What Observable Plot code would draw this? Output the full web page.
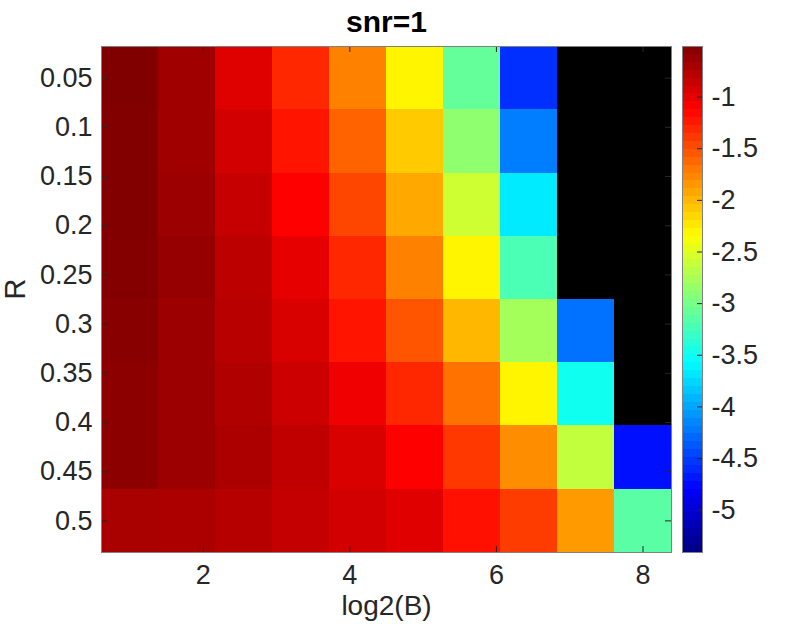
<!DOCTYPE html>
<html>
<head>
<meta charset="utf-8">
<script src="https://cdn.jsdelivr.net/npm/d3@7"></script>
<script src="https://cdn.jsdelivr.net/npm/@observablehq/plot@0.6"></script>
<style>
  html, body { margin: 0; padding: 0; background: #ffffff; }
  #wrap { position: relative; width: 792px; height: 624px; overflow: hidden; background: #fff; }
  #wrap svg { position: absolute; top: 0; }
</style>
</head>
<body>
<div id="wrap"></div>
<script>
// ---- data ----
const title = "snr=1";
const xLabel = "log2(B)";
const yLabel = "R";
const logB = [1, 1.7778, 2.5556, 3.3333, 4.1111, 4.8889, 5.6667, 6.4444, 7.2222, 8];
const R = [0.05, 0.1143, 0.1786, 0.2429, 0.3071, 0.3714, 0.4357, 0.5];
// rows follow R, columns follow logB; null = no value (drawn black)
const row1 = [-0.51, -0.67, -0.97, -1.31, -1.74, -2.30, -3.09, -4.57, null, null];
const row2 = [-0.52, -0.67, -0.91, -1.22, -1.60, -2.10, -2.88, -4.19, null, null];
const row3 = [-0.52, -0.65, -0.85, -1.12, -1.46, -1.93, -2.59, -3.67, null, null];
const row4 = [-0.53, -0.62, -0.80, -1.00, -1.31, -1.74, -2.30, -3.21, null, null];
const row5 = [-0.55, -0.65, -0.78, -0.94, -1.22, -1.53, -2.00, -2.78, -4.25, null];
const row6 = [-0.57, -0.65, -0.74, -0.88, -1.05, -1.31, -1.67, -2.30, -3.50, null];
const row7 = [-0.57, -0.65, -0.72, -0.82, -0.94, -1.12, -1.39, -1.80, -2.64, -4.72];
const row8 = [-0.71, -0.72, -0.77, -0.84, -0.91, -0.98, -1.20, -1.41, -1.86, -3.14];
const rows = [row1, row2, row3, row4, row5, row6, row7, row8];
const xTicks = [2, 4, 6, 8];
const yTicks = [0.05, 0.1, 0.15, 0.2, 0.25, 0.3, 0.35, 0.4, 0.45, 0.5];
const cbTicks = [-5, -4.5, -4, -3.5, -3, -2.5, -2, -1.5, -1];
const cLimits = [-5.41, -0.51];
const jetColors = ["#000080", "#0000ff", "#00ffff", "#ffff00", "#ff0000", "#800000"];
const jetStops = [0, 0.125, 0.375, 0.625, 0.875, 1];

// ---- build table ----
const cells = [];
rows.forEach((row, i) => row.forEach((v, j) => cells.push({x: logB[j], y: R[i], v})));
const dx = (logB[logB.length - 1] - logB[0]) / (logB.length - 1) / 2;
const dy = (R[R.length - 1] - R[0]) / (R.length - 1) / 2;

const span = cLimits[1] - cLimits[0];
const colorOpts = {
  type: "linear",
  domain: jetStops.map(t => cLimits[0] + t * span),
  range: jetColors,
  interpolate: "rgb",
  clamp: true
};

const font = "'Liberation Sans', Arial, Helvetica, sans-serif";
const ink = "#262626";
const W = 680, H = 624;
const mL = 101, mR = 9, mT = 46, mB = 72;
const fw = W - mL - mR, fh = H - mT - mB;
const tl = 6;

const main = Plot.plot({
  width: W, height: H,
  marginLeft: mL, marginRight: mR, marginTop: mT, marginBottom: mB,
  style: {fontFamily: font, fontSize: "27px", color: ink, background: "transparent", overflow: "visible"},
  x: {domain: [logB[0] - dx, logB[logB.length - 1] + dx]},
  y: {domain: [R[0] - dy, R[R.length - 1] + dy], reverse: true},
  color: colorOpts,
  marks: [
    Plot.rect(cells.filter(d => d.v == null), {
      x1: d => d.x - dx, x2: d => d.x + dx, y1: d => d.y - dy, y2: d => d.y + dy, fill: "black", shapeRendering: "crispEdges"
    }),
    Plot.rect(cells.filter(d => d.v != null), {
      x1: d => d.x - dx, x2: d => d.x + dx, y1: d => d.y - dy, y2: d => d.y + dy, fill: "v", shapeRendering: "crispEdges"
    }),
    Plot.tickX(xTicks, {x: d => d, insetTop: fh - tl, stroke: ink}),
    Plot.tickX(xTicks, {x: d => d, insetBottom: fh - tl, stroke: ink}),
    Plot.tickY(yTicks, {y: d => d, insetRight: fw - tl, stroke: ink}),
    Plot.tickY(yTicks, {y: d => d, insetLeft: fw - tl, stroke: ink}),
    Plot.axisX({ticks: xTicks, tickSize: 0, tickPadding: 12, label: null, tickFormat: d => String(d)}),
    Plot.axisY({ticks: yTicks, tickSize: 0, tickPadding: 9, label: null, tickFormat: d => String(d)}),
    Plot.frame({stroke: "#808080", strokeWidth: 1}),
    Plot.text([title], {text: d => d, frameAnchor: "top", lineAnchor: "middle", dy: -24, fontWeight: "bold", fontSize: 30, fill: "#000"}),
    Plot.text([xLabel], {text: d => d, frameAnchor: "bottom", lineAnchor: "middle", dy: 54, fontSize: 28, fill: ink}),
    Plot.text([yLabel], {text: d => d, frameAnchor: "left", lineAnchor: "middle", dx: -86, rotate: -90, fontSize: 29, fill: ink})
  ]
});

// colour bar
const nSteps = 64;
const ramp = d3.range(nSteps).map(k => ({
  lo: cLimits[0] + k * span / nSteps,
  hi: cLimits[0] + (k + 1) * span / nSteps,
  mid: cLimits[0] + (k + 0.5) * span / nSteps
}));
const cbW = 112;
const cbBar = 20;
const cb = Plot.plot({
  width: cbW, height: H,
  marginLeft: 2, marginRight: cbW - 2 - cbBar, marginTop: mT, marginBottom: mB,
  style: {fontFamily: font, fontSize: "27px", color: ink, background: "transparent", overflow: "visible"},
  x: {domain: [0, 1], axis: null},
  y: {domain: cLimits},
  color: colorOpts,
  marks: [
    Plot.rect(ramp, {x1: 0, x2: 1, y1: "lo", y2: "hi", fill: "mid", shapeRendering: "crispEdges"}),
    Plot.tickY(cbTicks, {y: d => d, insetLeft: cbBar - 5, stroke: ink}),
    Plot.axisY({anchor: "right", ticks: cbTicks, tickSize: 0, tickPadding: 9, label: null, tickFormat: d => String(d)}),
    Plot.frame({stroke: "#808080", strokeWidth: 1})
  ]
});

const wrap = document.getElementById("wrap");
main.style.left = "0px";
cb.style.left = "680px";
wrap.appendChild(main);
wrap.appendChild(cb);
</script>
</body>
</html>
